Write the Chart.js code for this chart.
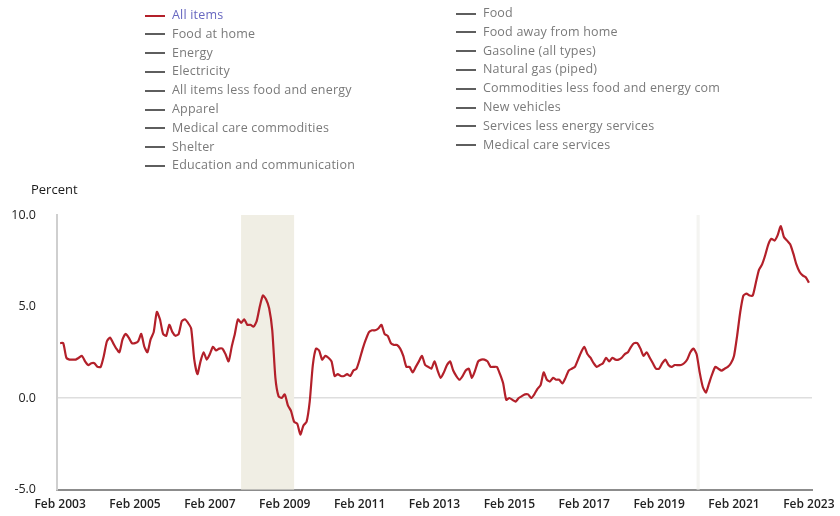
<!DOCTYPE html>
<html>
<meta charset="UTF-8">
<script src="https://cdn.jsdelivr.net/npm/chart.js"></script>
<head>
    <title>CPI 12-month percent change</title>
    <style>
        body { margin: 0; background: #fff; font-family: "Open Sans", sans-serif; }
        #wrap { position: relative; width: 840px; height: 516px; overflow: hidden; }
        #chart { position: absolute; left: 0; top: 2px; }
        .leg { position: absolute; font-size: 12.5px; color: #7a7a7a; white-space: nowrap; line-height: 16px; letter-spacing: 0.2px; }
        .leg span { display: inline-block; width: 20px; height: 2px; background: #5e5e5e; vertical-align: middle; margin-right: 7px; }
        #unit { position: absolute; left: 31px; top: 180px; font-size: 13px; color: #1a1a1a; }
    </style>
</head>
<body>
<div id="wrap">
    <canvas id="chart" width="840" height="516"></canvas>
    <div id="unit">Percent</div>
</div>
<script>
    // legend entries, two columns
    const legendLeft = ['All items', 'Food at home', 'Energy', 'Electricity', 'All items less food and energy',
        'Apparel', 'Medical care commodities', 'Shelter', 'Education and communication'];
    const legendRight = ['Food', 'Food away from home', 'Gasoline (all types)', 'Natural gas (piped)',
        'Commodities less food and energy com', 'New vehicles', 'Services less energy services', 'Medical care services'];

    // x axis tick labels, one every 24 months from Feb 2003
    const tickLabels = ['Feb 2003', 'Feb 2005', 'Feb 2007', 'Feb 2009', 'Feb 2011', 'Feb 2013',
        'Feb 2015', 'Feb 2017', 'Feb 2019', 'Feb 2021', 'Feb 2023'];

    // all items, 12-month percent change (2003 starts in Feb, 2023 ends in Feb)
    const cpi2003 = [3.0, 3.0, 2.2, 2.1, 2.1, 2.1, 2.2, 2.3, 2.0, 1.8, 1.9];
    const cpi2004 = [1.9, 1.7, 1.7, 2.3, 3.1, 3.3, 3.0, 2.7, 2.5, 3.2, 3.5, 3.3];
    const cpi2005 = [3.0, 3.0, 3.1, 3.5, 2.8, 2.5, 3.2, 3.6, 4.7, 4.3, 3.5, 3.4];
    const cpi2006 = [4.0, 3.6, 3.4, 3.5, 4.2, 4.3, 4.1, 3.8, 2.1, 1.3, 2.0, 2.5];
    const cpi2007 = [2.1, 2.4, 2.8, 2.6, 2.7, 2.7, 2.4, 2.0, 2.8, 3.5, 4.3, 4.1];
    const cpi2008 = [4.3, 4.0, 4.0, 3.9, 4.2, 5.0, 5.6, 5.4, 4.9, 3.7, 1.1, 0.1];
    const cpi2009 = [0.0, 0.2, -0.4, -0.7, -1.3, -1.4, -2.0, -1.5, -1.3, -0.2, 1.8, 2.7];
    const cpi2010 = [2.6, 2.1, 2.3, 2.2, 2.0, 1.2, 1.3, 1.2, 1.2, 1.3, 1.2, 1.5];
    const cpi2011 = [1.6, 2.1, 2.7, 3.2, 3.6, 3.7, 3.7, 3.8, 4.0, 3.5, 3.4, 3.0];
    const cpi2012 = [2.9, 2.9, 2.7, 2.3, 1.7, 1.7, 1.4, 1.7, 2.0, 2.3, 1.8, 1.7];
    const cpi2013 = [1.6, 2.0, 1.5, 1.1, 1.4, 1.8, 2.0, 1.5, 1.2, 1.0, 1.2, 1.5];
    const cpi2014 = [1.6, 1.1, 1.5, 2.0, 2.1, 2.1, 2.0, 1.7, 1.7, 1.7, 1.3, 0.8];
    const cpi2015 = [-0.1, 0.0, -0.1, -0.2, 0.0, 0.1, 0.2, 0.2, 0.0, 0.2, 0.5, 0.7];
    const cpi2016 = [1.4, 1.0, 0.9, 1.1, 1.0, 1.0, 0.8, 1.1, 1.5, 1.6, 1.7, 2.1];
    const cpi2017 = [2.5, 2.8, 2.4, 2.2, 1.9, 1.7, 1.8, 1.9, 2.2, 2.0, 2.2, 2.1];
    const cpi2018 = [2.1, 2.2, 2.4, 2.5, 2.8, 3.0, 3.0, 2.7, 2.3, 2.5, 2.2, 1.9];
    const cpi2019 = [1.6, 1.6, 1.9, 2.1, 1.8, 1.7, 1.8, 1.8, 1.8, 1.9, 2.1, 2.5];
    const cpi2020 = [2.7, 2.4, 1.4, 0.6, 0.3, 0.8, 1.3, 1.7, 1.6, 1.5, 1.6, 1.7];
    const cpi2021 = [1.9, 2.3, 3.4, 4.7, 5.6, 5.7, 5.6, 5.6, 6.3, 7.0, 7.3, 7.8];
    const cpi2022 = [8.4, 8.7, 8.6, 8.9, 9.4, 8.8, 8.6, 8.4, 7.9, 7.3, 6.9, 6.7];
    const cpi2023 = [6.6, 6.3];

    // recessions as [first month, last month] counted from Feb 2003
    const recessions = [[58, 75], [204, 205]];

    const allItems = [].concat(cpi2003, cpi2004, cpi2005, cpi2006, cpi2007, cpi2008, cpi2009, cpi2010,
        cpi2011, cpi2012, cpi2013, cpi2014, cpi2015, cpi2016, cpi2017, cpi2018, cpi2019, cpi2020,
        cpi2021, cpi2022, cpi2023);

    // html legend
    const wrap = document.getElementById('wrap');
    function addLegend(list, x, y0) {
        list.forEach((name, i) => {
            const d = document.createElement('div');
            d.className = 'leg';
            d.style.left = x + 'px';
            d.style.top = (y0 + i * 18.8) + 'px';
            d.innerHTML = '<span></span>' + name;
            if (name === 'All items') {
                d.style.color = '#6767c0';
                d.firstChild.style.background = '#b3202a';
            }
            wrap.appendChild(d);
        });
    }
    addLegend(legendLeft, 145, 7);
    addLegend(legendRight, 456, 5);

    // shaded recession bands behind the line
    const shading = {
        id: 'shading',
        beforeDatasetsDraw(chart) {
            const c = chart.ctx, a = chart.chartArea, xs = chart.scales.x;
            c.save();
            recessions.forEach(r => {
                const x1 = xs.getPixelForValue(r[0]);
                const x2 = xs.getPixelForValue(r[1]);
                c.fillStyle = r[1] - r[0] > 2 ? '#f0eee4' : '#f4f4f1';
                c.fillRect(x1, a.top, x2 - x1, a.bottom - a.top);
            });
            c.restore();
        }
    };

    const ctx = document.getElementById('chart').getContext('2d');
    new Chart(ctx, {
        type: 'line',
        data: {
            datasets: [{
                label: 'All items',
                data: allItems.map((v, i) => ({x: i, y: v})),
                borderColor: '#b3202a',
                borderWidth: 2.2,
                pointRadius: 0,
                tension: 0.2
            }]
        },
        options: {
            responsive: false,
            animation: false,
            layout: { padding: { top: 213, right: 28, left: 0, bottom: 0 } },
            plugins: { legend: { display: false }, tooltip: { enabled: false } },
            scales: {
                x: {
                    type: 'linear',
                    min: -1,
                    max: 241,
                    afterBuildTicks: s => { s.ticks = tickLabels.map((t, i) => ({value: i * 24})); },
                    afterFit: s => { s.height = 21; },
                    grid: { display: false },
                    border: { color: '#8c8c8c', width: 2 },
                    ticks: {
                        autoSkip: false,
                        maxRotation: 0,
                        padding: 0,
                        color: '#222',
                        font: { family: 'Open Sans', size: 12, weight: '600' },
                        callback: v => tickLabels[v / 24]
                    }
                },
                y: {
                    min: -5,
                    max: 10,
                    afterFit: s => { s.width = 57; },
                    grid: {
                        drawTicks: false,
                        color: c => c.tick && c.tick.value === 0 ? '#dedede' : 'rgba(0,0,0,0)',
                        lineWidth: 1.5
                    },
                    border: { color: '#cfcfcf', width: 2 },
                    ticks: {
                        stepSize: 5,
                        padding: 21,
                        color: '#222',
                        font: { family: 'Open Sans', size: 12.5 },
                        callback: v => v.toFixed(1)
                    }
                }
            }
        },
        plugins: [shading]
    });
</script>
</body>
</html>
